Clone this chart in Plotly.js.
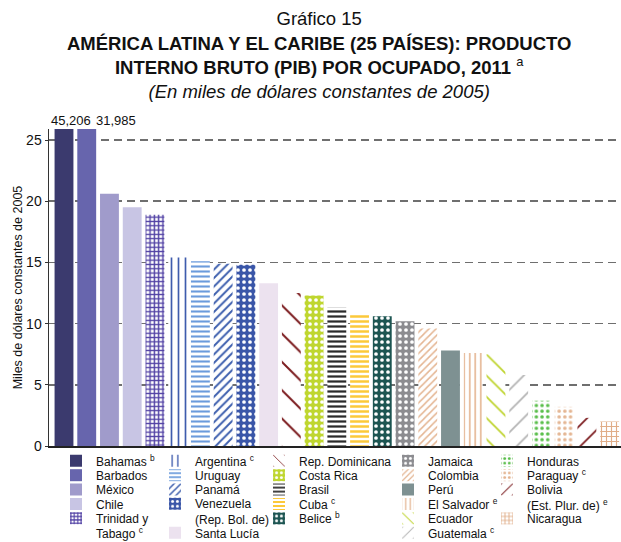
<!DOCTYPE html>
<html>
<head>
<meta charset="utf-8">
<script src="https://cdn.plot.ly/plotly-3.0.1.min.js"></script>
<style>html,body{margin:0;padding:0;background:#fff;}#chart{width:621px;height:542px;}</style>
</head>
<body>
<div id="chart"></div>
<script>
// ---- data ----
var countries = ["Bahamas","Barbados","México","Chile","Trinidad y Tabago","Argentina","Uruguay","Panamá",
  "Venezuela (Rep. Bol. de)","Santa Lucía","Rep. Dominicana","Costa Rica","Brasil","Cuba","Belice","Jamaica",
  "Colombia","Perú","El Salvador","Ecuador","Guatemala","Honduras","Paraguay","Bolivia (Est. Plur. de)","Nicaragua"];
var values = [45.206, 31.985, 20.6, 19.5, 18.9, 15.4, 15.1, 14.9, 14.8, 13.3, 12.5, 12.3, 11.3, 10.8, 10.6, 10.2,
  9.6, 7.8, 7.6, 7.5, 5.8, 3.7, 3.2, 2.3, 2.0];
var legendLabels = ["Bahamas <sup>b</sup>","Barbados","México","Chile","Trinidad y<br>Tabago <sup>c</sup>",
  "Argentina <sup>c</sup>","Uruguay","Panamá","Venezuela<br>(Rep. Bol. de)","Santa Lucía","Rep. Dominicana",
  "Costa Rica","Brasil","Cuba <sup>c</sup>","Belice <sup>b</sup>","Jamaica","Colombia","Perú","El Salvador <sup>e</sup>",
  "Ecuador","Guatemala <sup>c</sup>","Honduras","Paraguay <sup>c</sup>","Bolivia<br>(Est. Plur. de) <sup>e</sup>","Nicaragua"];
var labelledBars = [0, 1];
var yTickVals = [0, 5, 10, 15, 20, 25];

// ---- styles ----
var styles = [
  {c:"#3b3a6e"}, {c:"#6765ad"}, {c:"#a09bcb"}, {c:"#c8c5e4"},
  {c:"#5040a4", s:"+", size:4.3, sol:0.55},
  {c:"#3f5cad", s:"|", size:7, sol:0.24},
  {c:"#6b9bdc", s:"-", size:5, sol:0.42},
  {c:"#3d5fae", s:"/", size:6, sol:0.32},
  {c:"#3a56a8", s:".", size:6, sol:0.3, bg:"#3a56a8", fg:"#ffffff"},
  {c:"#ece2ef"},
  {c:"#7c1c1f", s:"\\", size:20, sol:0.1},
  {c:"#bfd62f", s:".", size:6, sol:0.3, bg:"#bfd62f", fg:"#ffffff"},
  {c:"#2b2b2b", s:"-", size:5, sol:0.45},
  {c:"#fcc93a", s:"-", size:5, sol:0.5},
  {c:"#1d5552", s:".", size:6, sol:0.3, bg:"#1d5552", fg:"#ffffff"},
  {c:"#8c8c90", s:".", size:6, sol:0.3, bg:"#8c8c90", fg:"#ffffff"},
  {c:"#e4b592", s:"/", size:5, sol:0.3},
  {c:"#7e9192"},
  {c:"#e6b896", s:"|", size:5.5, sol:0.3},
  {c:"#bfd42f", s:"\\", size:15, sol:0.12},
  {c:"#b4b4b4", s:"/", size:15, sol:0.12},
  {c:"#59be4a", s:".", size:5.7, sol:0.3},
  {c:"#e4b592", s:".", size:5.7, sol:0.3},
  {c:"#7c1c1f", s:"/", size:15, sol:0.12},
  {c:"#e0ad88", s:"+", size:5, sol:0.4}
];
// legend grid placement (column, row, number of lines)
var legCol = [0,0,0,0,0, 1,1,1,1,1, 2,2,2,2,2, 3,3,3,3,3,3, 4,4,4,4];
var legRow = [0,1,2,3,4, 0,1,2,3,5, 0,1,2,3,4, 0,1,2,3,4,5, 0,1,2,4];
var legLines = [1,1,1,1,2, 1,1,1,2,1, 1,1,1,1,1, 1,1,1,1,1,1, 1,1,2,1];
var colSwatchLeft = [70, 169, 273, 402, 501];

var W = 621, H = 542, mL = 49, mR = 0, mT = 129, mB = 96;
var plotW = W - mL - mR, plotH = H - mT - mB;
var FONT = "Liberation Sans, Arial, Helvetica, sans-serif";

var traces = [], layout = {};
countries.forEach(function(name, i){
  var st = styles[i];
  var marker = {color: st.c, line: {width: 0}};
  if (st.s) {
    marker.pattern = {shape: st.s, size: st.size, solidity: st.sol,
      fgcolor: st.fg || st.c, bgcolor: st.bg || "#ffffff", fillmode: "replace"};
  }
  var legId = i === 0 ? "legend" : "legend" + (i + 1);
  traces.push({type: "bar", x: [name], y: [values[i]], name: legendLabels[i], marker: marker,
    legend: legId, showlegend: true, hoverinfo: "x+y"});
  var boxLeft = colSwatchLeft[legCol[i]] - 14;
  var cy = 461 + 14.4 * legRow[i] + (legLines[i] - 1) * 7.8;
  layout[legId] = {x: (boxLeft - mL) / plotW, xanchor: "left", xref: "paper",
    y: (H - mB - cy) / plotH, yanchor: "middle", yref: "paper",
    bgcolor: "rgba(0,0,0,0)", borderwidth: 0, valign: "top",
    font: {family: FONT, size: 12, color: "#111"}, itemclick: false, itemdoubleclick: false};
});

var ann = labelledBars.map(function(i, k){
  return {x: countries[i], y: 25.9, xref: "x", yref: "y", yanchor: "bottom", showarrow: false,
    xshift: k === 0 ? 7 : 29, yshift: -1,
    text: values[i].toFixed(3).replace(".", ","), font: {family: FONT, size: 13, color: "#111"}};
});

Object.assign(layout, {
  width: W, height: H,
  margin: {l: mL, r: mR, t: mT, b: mB, autoexpand: false},
  paper_bgcolor: "#ffffff", plot_bgcolor: "#ffffff",
  font: {family: FONT, color: "#111"},
  barmode: "overlay", bargap: 0.17,
  title: {text: "Gráfico 15<br><b>AMÉRICA LATINA Y EL CARIBE (25 PAÍSES): PRODUCTO</b><br><b>INTERNO BRUTO (PIB) POR OCUPADO, 2011</b> <sup>a</sup><br><i>(En miles de dólares constantes de 2005)</i>",
    font: {family: FONT, size: 18.5, color: "#111"}, x: 0.514, xref: "container", xanchor: "center",
    y: 0.953, yref: "container", yanchor: "top"},
  xaxis: {type: "category", showticklabels: false, ticks: "", showgrid: false, zeroline: false,
    showline: true, linecolor: "#222", linewidth: 1.5, fixedrange: true},
  yaxis: {range: [0, 25.9], tickvals: yTickVals, ticks: "outside", ticklen: 3, tickcolor: "#333",
    tickfont: {family: FONT, size: 14, color: "#111"},
    showline: true, linecolor: "#333", linewidth: 1.5, zeroline: false,
    showgrid: true, gridcolor: "#6f6f6f", gridwidth: 1.5, griddash: "8px,5px",
    title: {text: "Miles de dólares constantes de 2005", font: {family: FONT, size: 12.5, color: "#111"}, standoff: 0},
    fixedrange: true},
  annotations: ann,
  showlegend: true
});

Plotly.newPlot("chart", traces, layout, {displayModeBar: false, staticPlot: true});
</script>
</body>
</html>
